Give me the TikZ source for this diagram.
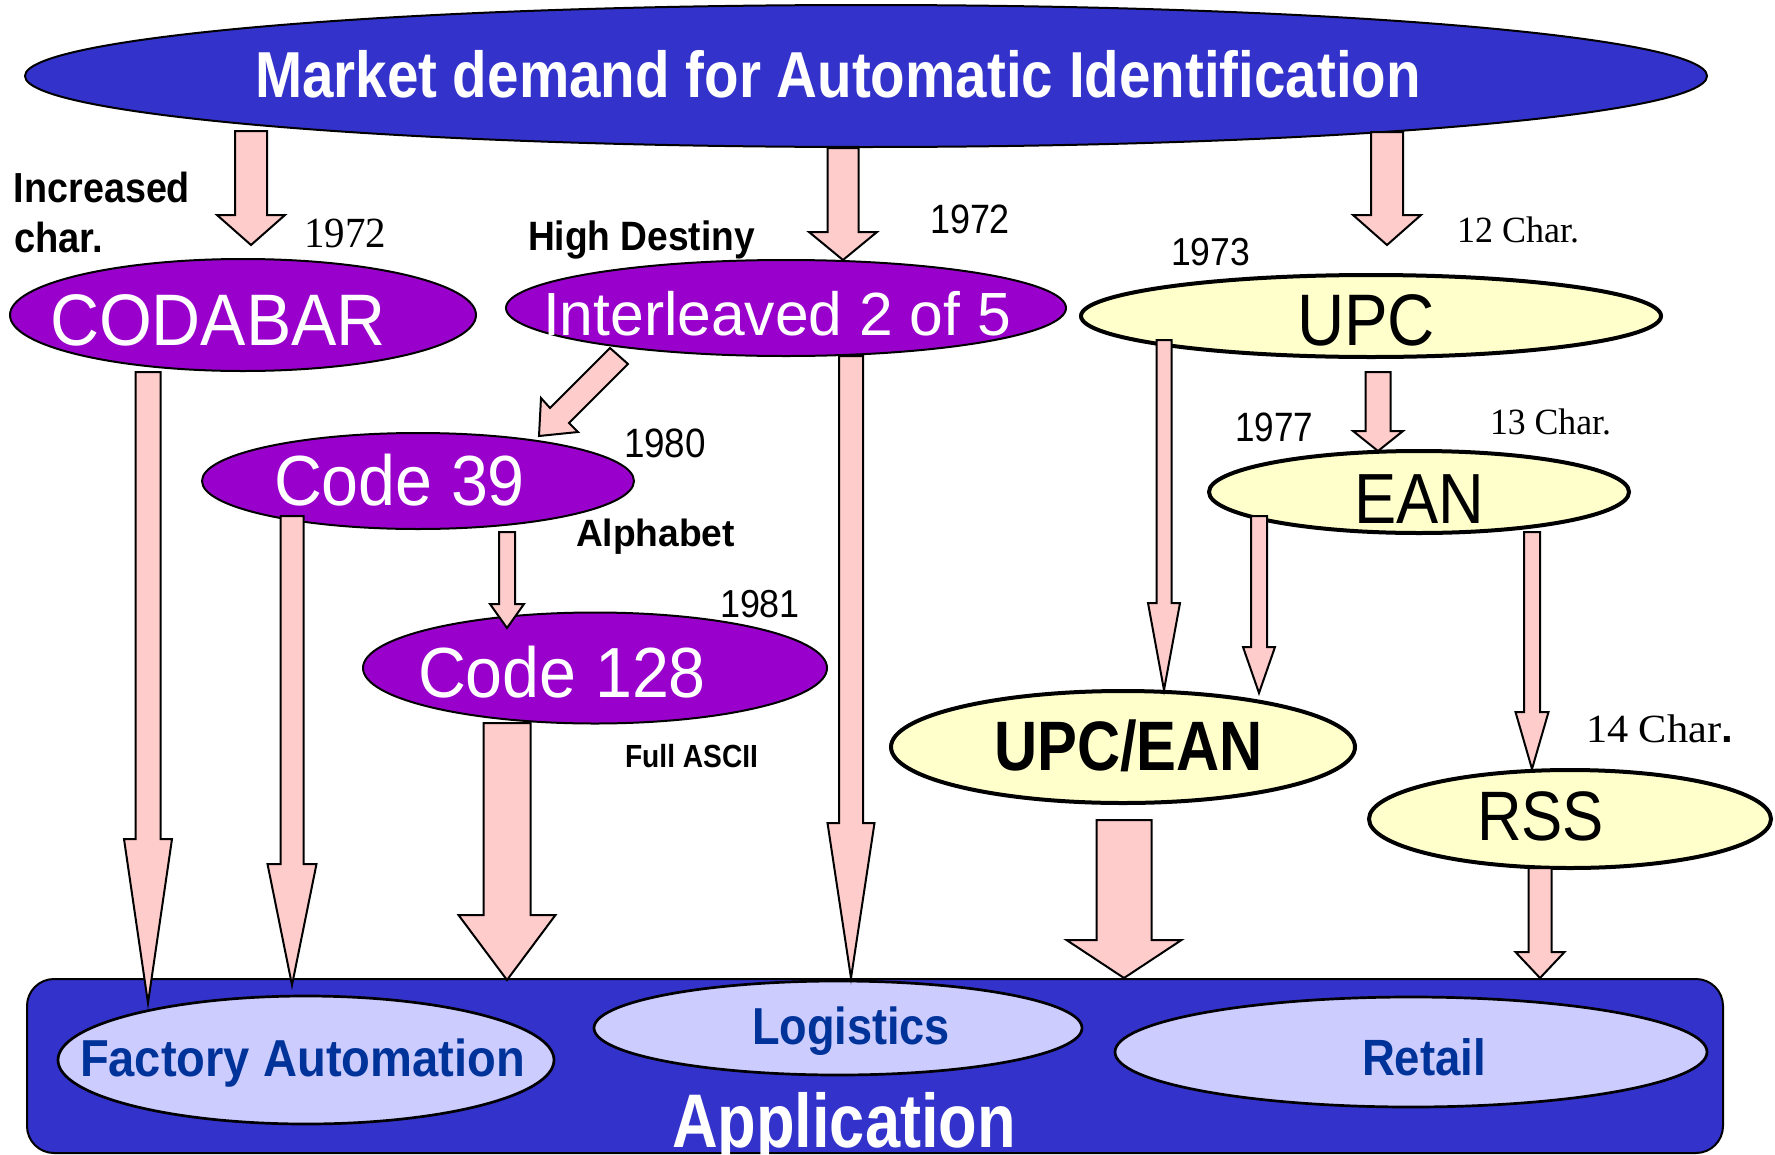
\documentclass[tikz,border=0pt]{standalone}
\usepackage{fontspec}
\usepackage{graphicx}
\setmainfont{Liberation Sans}
\newfontfamily\tmsfont{Liberation Serif}
\usetikzlibrary{shapes.geometric}
\definecolor{dblue}{HTML}{3333CC}
\definecolor{purp}{HTML}{9900CC}
\definecolor{lyel}{HTML}{FFFFCC}
\definecolor{pinkar}{HTML}{FFCCCC}
\definecolor{lav}{HTML}{CCCCFF}
\definecolor{tblue}{HTML}{003399}
\newcommand{\fitw}[2]{\resizebox{#1pt}{\height}{#2}}
\newcommand{\fs}[1]{\fontsize{#1}{#1}\selectfont}
\newcommand{\varrow}[6]{%
  \draw[barrow] (#1-#5,#2) -- (#1+#5,#2) -- (#1+#5,#3) -- (#1+#6,#3) -- (#1,#4) -- (#1-#6,#3) -- (#1-#5,#3) -- cycle;}
\tikzset{
  ellbase/.style={ellipse, draw=black, inner sep=0pt},
  topell/.style={ellbase, fill=dblue, line width=2pt},
  purpell/.style={ellbase, fill=purp, line width=2pt},
  yelell/.style={ellbase, fill=lyel, line width=4pt},
  lavell/.style={ellbase, fill=lav, line width=2.7pt},
  barrow/.style={fill=pinkar, draw=black, line width=2pt, line join=miter},
  txt/.style={anchor=base west, inner sep=0pt, outer sep=0pt},
}
\begin{document}
\begin{tikzpicture}[x=1pt,y=-1pt]
\useasboundingbox (0,0) rectangle (1775,1154);
% application box
\node[draw=black, fill=dblue, line width=2pt, rounded corners=27pt, minimum width=1696pt, minimum height=174pt, inner sep=0pt] (app) at (875,1066) {};
\node[lavell, minimum width=496pt, minimum height=128pt] (fa) at (306,1060) {};
\node[lavell, minimum width=488pt, minimum height=94pt] (lg) at (838,1028) {};
\node[lavell, minimum width=592pt, minimum height=110pt] (rt) at (1411,1052) {};
% top ellipse
\node[topell, minimum width=1682pt, minimum height=142pt] (mkt) at (866,76) {};
% purple
\node[purpell, minimum width=466pt, minimum height=112pt] (cb) at (243,315) {};
\node[purpell, minimum width=560pt, minimum height=96pt] (i25) at (786,308) {};
\node[purpell, minimum width=432pt, minimum height=96pt] (c39) at (418,481) {};
\node[purpell, minimum width=464pt, minimum height=111pt] (c128) at (595,668) {};
% yellow
\node[yelell, minimum width=580pt, minimum height=82pt] (upc) at (1371,316) {};
\node[yelell, minimum width=420pt, minimum height=82pt] (ean) at (1419,492) {};
\node[yelell, minimum width=464pt, minimum height=112pt] (ue) at (1123,747) {};
\node[yelell, minimum width=402pt, minimum height=98pt] (rss) at (1570,819) {};
% arrows
\varrow{251}{131}{215}{245}{16}{34}
\varrow{843}{148}{232}{260}{15.5}{34}
\varrow{1387}{132}{215}{245}{16}{34}
\varrow{148}{372}{839}{1003}{12.5}{24}
\varrow{292}{516}{864}{985}{11.5}{24.5}
\varrow{507}{723}{915}{980}{23.5}{48.5}
\varrow{851}{356}{823}{978}{12}{23.5}
\varrow{507}{532}{604}{628}{8}{17}
\varrow{1164}{340}{603}{690}{7.5}{16}
\varrow{1378}{372}{431}{451}{12.5}{25}
\varrow{1259}{516}{647}{693}{8}{16}
\varrow{1532}{532}{712}{769}{8}{16.5}
\varrow{1124}{820}{940}{978}{27.5}{57.5}
\varrow{1540}{868}{952}{978}{11.5}{24.5}
\draw[barrow] (610,348) -- (628,364) -- (569,423) -- (578,432) -- (539,436) -- (541,398) -- (550,408) -- cycle;
% texts
\node[txt, text=white] (tmkt) at (255,97) {\fitw{1166}{\fs{65}\bfseries Market demand for Automatic Identification}};
\node[txt] (tinc) at (14,202) {\fitw{176}{\fs{42}\bfseries Increased}};
\node[txt] (tchar) at (14,252) {\fitw{89}{\fs{42}\bfseries char.}};
\node[txt] (y72a) at (304,247) {\fitw{82}{\fs{43}\tmsfont 1972}};
\node[txt] (thd) at (528,250) {\fitw{227}{\fs{41}\bfseries High Destiny}};
\node[txt] (y72b) at (930,233) {\fitw{80}{\fs{41}1972}};
\node[txt] (t12) at (1457,242) {\fitw{122}{\fs{37}\tmsfont 12 Char.}};
\node[txt] (y73) at (1171,265) {\fitw{79}{\fs{39}1973}};
\node[txt, text=white] (tcb) at (50,345) {\fitw{336}{\fs{73}CODABAR}};
\node[txt, text=white] (ti25) at (543,335) {\fitw{468}{\fs{61}Interleaved 2 of 5}};
\node[txt] (tupc) at (1297,345) {\fitw{138}{\fs{73}UPC}};
\node[txt, text=white] (tc39) at (274,505) {\fitw{251}{\fs{71}Code 39}};
\node[txt] (y80) at (624,457) {\fitw{82}{\fs{41}1980}};
\node[txt] (talp) at (576,546) {\fitw{159}{\fs{38}\bfseries Alphabet}};
\node[txt, text=white] (tc128) at (418,697) {\fitw{288}{\fs{71}Code 128}};
\node[txt] (y81) at (720,617) {\fitw{80}{\fs{39}1981}};
\node[txt] (tfa) at (625,767) {\fitw{133}{\fs{32}\bfseries Full ASCII}};
\node[txt] (y77) at (1235,441) {\fitw{78}{\fs{41}1977}};
\node[txt] (t13) at (1490,434) {\fitw{121}{\fs{37}\tmsfont 13 Char.}};
\node[txt] (tean) at (1354,523) {\fitw{130}{\fs{71}EAN}};
\node[txt] (t14) at (1586,742) {\fitw{147}{\fs{40}\tmsfont 14 Char\normalfont\bfseries .}};
\node[txt] (tue) at (994,770) {\fitw{269}{\fs{70}\bfseries UPC/EAN}};
\node[txt] (trss) at (1477,840) {\fitw{127}{\fs{70}RSS}};
\node[txt, text=tblue] (tfac) at (80,1076) {\fitw{445}{\fs{52}\bfseries Factory Automation}};
\node[txt, text=tblue] (tlog) at (752,1044) {\fitw{198}{\fs{52}\bfseries Logistics}};
\node[txt, text=tblue] (tret) at (1362,1075) {\fitw{124}{\fs{51}\bfseries Retail}};
\node[txt, text=white] (tapp) at (672,1147) {\fitw{344}{\fs{76}\bfseries Application}};
\end{tikzpicture}
\end{document}
